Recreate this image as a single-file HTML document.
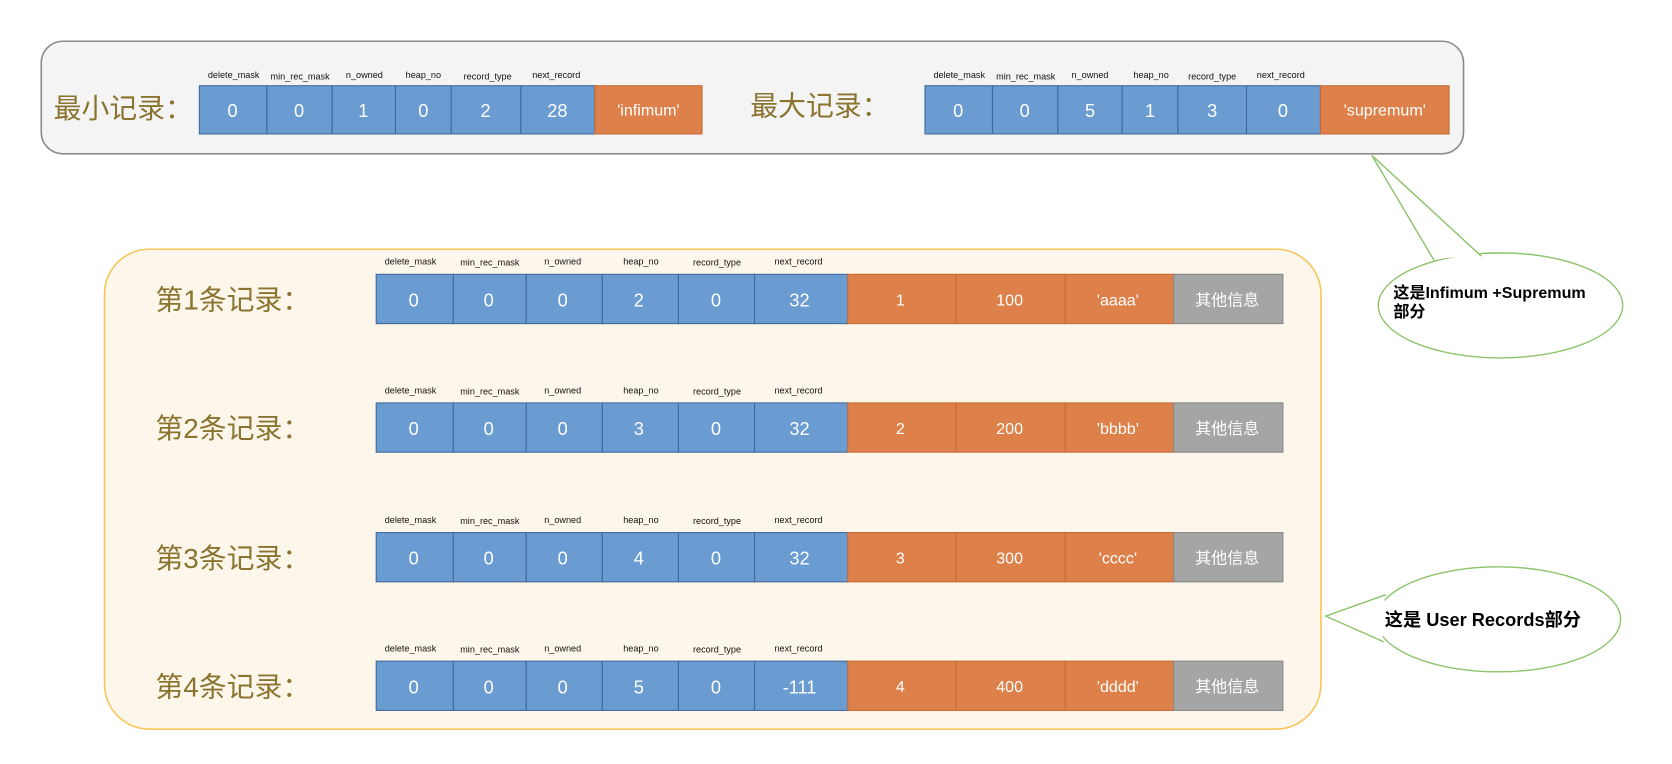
<!DOCTYPE html>
<html><head><meta charset="utf-8"><style>html,body{margin:0;padding:0;background:#fff}svg{display:block}</style></head>
<body>
<svg width="1672" height="764" viewBox="0 0 1560 713" preserveAspectRatio="none" xmlns="http://www.w3.org/2000/svg" font-family="Liberation Sans, Noto Sans CJK SC, sans-serif">
<rect x="38.5" y="38.5" width="1327" height="105" rx="20" fill="#f4f4f4" stroke="#8a8a8a" stroke-width="1.5"/>
<rect x="97.5" y="232.5" width="1135" height="448" rx="42" fill="#fdf6ea" stroke="#f5c65a" stroke-width="1.5"/>
<!-- callout 1 -->
<ellipse cx="1400" cy="285" rx="114" ry="49" fill="#fff" stroke="#8cc36a" stroke-width="1.3"/>
<polygon points="1280,145 1338,242 1382,238" fill="#fff"/>
<polyline points="1338,243 1280,145 1382,239" fill="none" stroke="#8cc36a" stroke-width="1.3"/>
<!-- callout 2 -->
<ellipse cx="1398" cy="578" rx="114" ry="49" fill="#fff" stroke="#8cc36a" stroke-width="1.3"/>
<polygon points="1237,575 1292,556 1290,598" fill="#fff"/>
<polyline points="1293,555 1237,575 1291,599" fill="none" stroke="#8cc36a" stroke-width="1.3"/>
<text x="1300" y="278" font-size="15" font-weight="bold" fill="#000">这是Infimum +Supremum</text>
<text x="1300" y="296" font-size="15" font-weight="bold" fill="#000">部分</text>
<text x="1292" y="584" font-size="17" font-weight="bold" fill="#000">这是 User Records部分</text>

<g font-size="26" fill="#8a7430">
<text x="50" y="110">最小记录：</text>
<text x="700" y="108">最大记录：</text>
<text x="145" y="289">第1条记录：</text>
<text x="145" y="409">第2条记录：</text>
<text x="145" y="530">第3条记录：</text>
<text x="145" y="650">第4条记录：</text>
</g>

<g stroke="#40699a" stroke-width="1">
<rect x="186" y="80" width="63" height="45" fill="#6a9bd1"/><rect x="249" y="80" width="61" height="45" fill="#6a9bd1"/><rect x="310" y="80" width="59" height="45" fill="#6a9bd1"/><rect x="369" y="80" width="52" height="45" fill="#6a9bd1"/><rect x="421" y="80" width="65" height="45" fill="#6a9bd1"/><rect x="486" y="80" width="69" height="45" fill="#6a9bd1"/><rect x="555" y="80" width="100" height="45" fill="#dd8049" stroke="#c86a35"/>
<rect x="863" y="80" width="63" height="45" fill="#6a9bd1"/><rect x="926" y="80" width="61" height="45" fill="#6a9bd1"/><rect x="987" y="80" width="60" height="45" fill="#6a9bd1"/><rect x="1047" y="80" width="52" height="45" fill="#6a9bd1"/><rect x="1099" y="80" width="64" height="45" fill="#6a9bd1"/><rect x="1163" y="80" width="69" height="45" fill="#6a9bd1"/><rect x="1232" y="80" width="120" height="45" fill="#dd8049" stroke="#c86a35"/>
</g>
<g font-size="17" fill="#fff" text-anchor="middle">
<text x="217" y="109">0</text><text x="279" y="109">0</text><text x="339" y="109">1</text><text x="395" y="109">0</text><text x="453" y="109">2</text><text x="520" y="109">28</text><text x="605" y="108" font-size="15">'infimum'</text>
<text x="894" y="109">0</text><text x="956" y="109">0</text><text x="1017" y="109">5</text><text x="1073" y="109">1</text><text x="1131" y="109">3</text><text x="1197" y="109">0</text><text x="1292" y="108" font-size="15">'supremum'</text>
</g>
<g font-size="8.5" fill="#111" text-anchor="middle">
<text x="218" y="73">delete_mask</text><text x="280" y="74">min_rec_mask</text><text x="340" y="73">n_owned</text><text x="395" y="73">heap_no</text><text x="455" y="74">record_type</text><text x="519" y="73">next_record</text>
<text x="895" y="73">delete_mask</text><text x="957" y="74">min_rec_mask</text><text x="1017" y="73">n_owned</text><text x="1074" y="73">heap_no</text><text x="1131" y="74">record_type</text><text x="1195" y="73">next_record</text>
</g>

<defs>
<g id="rowcells" stroke-width="1">
<rect x="351" y="0" width="72" height="46" fill="#6a9bd1" stroke="#40699a"/>
<rect x="423" y="0" width="68" height="46" fill="#6a9bd1" stroke="#40699a"/>
<rect x="491" y="0" width="71" height="46" fill="#6a9bd1" stroke="#40699a"/>
<rect x="562" y="0" width="71" height="46" fill="#6a9bd1" stroke="#40699a"/>
<rect x="633" y="0" width="71" height="46" fill="#6a9bd1" stroke="#40699a"/>
<rect x="704" y="0" width="87" height="46" fill="#6a9bd1" stroke="#40699a"/>
<rect x="791" y="0" width="101" height="46" fill="#dd8049" stroke="#c86a35"/>
<rect x="892" y="0" width="102" height="46" fill="#dd8049" stroke="#c86a35"/>
<rect x="994" y="0" width="101" height="46" fill="#dd8049" stroke="#c86a35"/>
<rect x="1095" y="0" width="102" height="46" fill="#a5a5a5" stroke="#888"/>
<g font-size="8.5" fill="#111" text-anchor="middle">
<text x="383" y="-9">delete_mask</text><text x="457" y="-8">min_rec_mask</text><text x="525" y="-9">n_owned</text><text x="598" y="-9">heap_no</text><text x="669" y="-8">record_type</text><text x="745" y="-9">next_record</text>
</g>
</g>
</defs>
<g font-size="17" fill="#fff" text-anchor="middle">
<g transform="translate(0,256)"><use href="#rowcells"/><text x="386" y="30">0</text><text x="456" y="30">0</text><text x="525" y="30">0</text><text x="596" y="30">2</text><text x="668" y="30">0</text><text x="746" y="30">32</text><text x="840" y="29" font-size="15">1</text><text x="942" y="29" font-size="15">100</text><text x="1043" y="29" font-size="15">'aaaa'</text><text x="1145" y="29" font-size="15">其他信息</text></g>
<g transform="translate(0,376)"><use href="#rowcells"/><text x="386" y="30">0</text><text x="456" y="30">0</text><text x="525" y="30">0</text><text x="596" y="30">3</text><text x="668" y="30">0</text><text x="746" y="30">32</text><text x="840" y="29" font-size="15">2</text><text x="942" y="29" font-size="15">200</text><text x="1043" y="29" font-size="15">'bbbb'</text><text x="1145" y="29" font-size="15">其他信息</text></g>
<g transform="translate(0,497)"><use href="#rowcells"/><text x="386" y="30">0</text><text x="456" y="30">0</text><text x="525" y="30">0</text><text x="596" y="30">4</text><text x="668" y="30">0</text><text x="746" y="30">32</text><text x="840" y="29" font-size="15">3</text><text x="942" y="29" font-size="15">300</text><text x="1043" y="29" font-size="15">'cccc'</text><text x="1145" y="29" font-size="15">其他信息</text></g>
<g transform="translate(0,617)"><use href="#rowcells"/><text x="386" y="30">0</text><text x="456" y="30">0</text><text x="525" y="30">0</text><text x="596" y="30">5</text><text x="668" y="30">0</text><text x="746" y="30">-111</text><text x="840" y="29" font-size="15">4</text><text x="942" y="29" font-size="15">400</text><text x="1043" y="29" font-size="15">'dddd'</text><text x="1145" y="29" font-size="15">其他信息</text></g>
</g>
</svg>
</body></html>
